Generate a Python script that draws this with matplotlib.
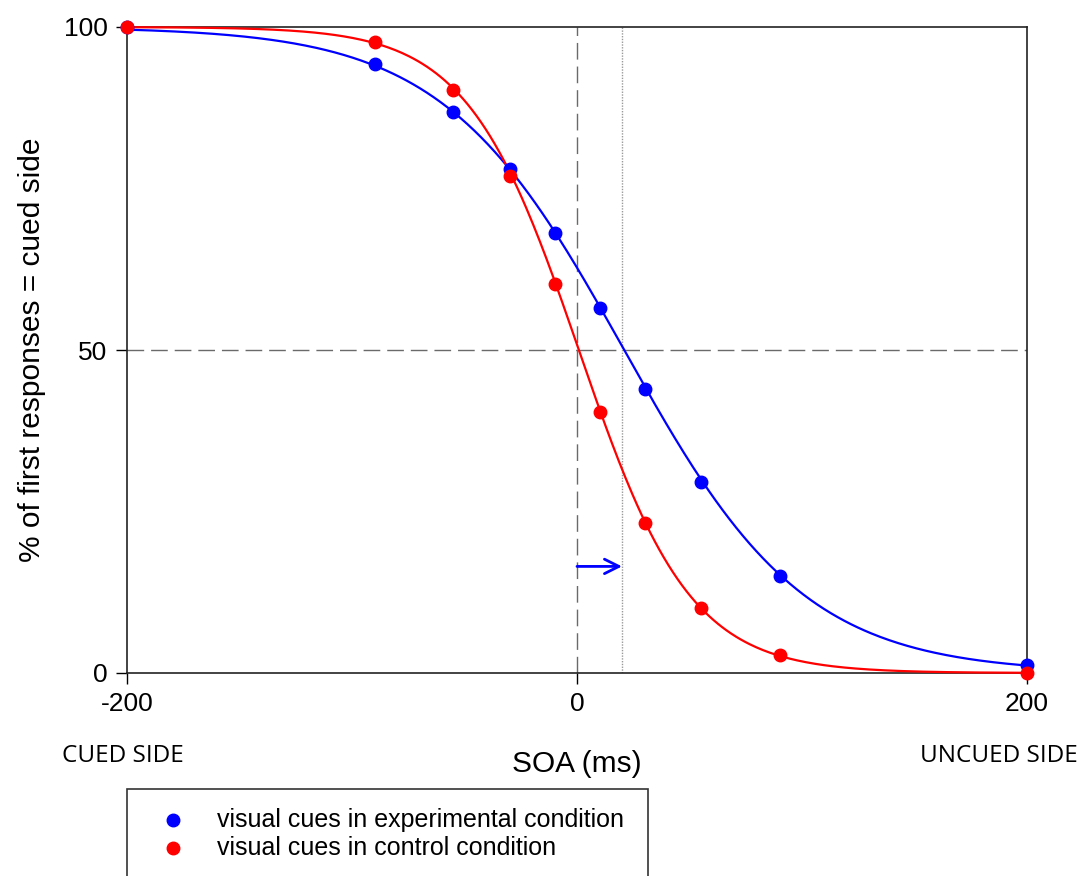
import numpy as np
import matplotlib
matplotlib.use("Agg")
import matplotlib.pyplot as plt
from matplotlib.patches import Rectangle

plt.rcParams['font.family'] = ['Liberation Sans', 'DejaVu Sans']
plt.rcParams['axes.unicode_minus'] = False

# ---- data ----
soa = [-200, -90, -55, -30, -10, 10, 30, 55, 90, 200]
exp_pct = [100.0, 94.3, 86.8, 78.0, 68.1, 56.5, 44.0, 29.6, 15.0, 1.2]
ctl_pct = [100.0, 97.7, 90.2, 76.9, 60.2, 40.4, 23.2, 10.1, 2.8, 0.0]
x_ticks = [-200, 0, 200]
y_ticks = [0, 50, 100]
legend_labels = ["visual cues in experimental condition",
                 "visual cues in control condition"]
shift_from, shift_to, shift_y = 0, 20, 16.5


def logistic_fit(x, y):
    x = np.asarray(x, float)
    y = np.asarray(y, float)
    m = (y > 0) & (y < 100)
    lg = np.log(y[m] / (100 - y[m]))
    a, b = np.polyfit(x[m], lg, 1)
    xs = np.linspace(-200, 200, 400)
    return xs, 100 / (1 + np.exp(-(a * xs + b))), -b / a


fig = plt.figure(figsize=(10.86, 8.76), dpi=100)
ax = fig.add_axes([127 / 1086, 1 - 673 / 876, 900 / 1086, 646 / 876])
ax.set_xlim(-200, 200)
ax.set_ylim(0, 100)

# reference lines
ax.axhline(50, color='#6a6a6a', lw=1.0, ls=(0, (12, 5)), zorder=1)
ax.axvline(0, color='#6a6a6a', lw=1.0, ls=(0, (12, 5)), zorder=1)
ax.axvline(shift_to, color='#9a9a9a', lw=1.0, ls=(0, (1, 1)), zorder=1)

for pct, col in [(exp_pct, '#0000ff'), (ctl_pct, '#ff0000')]:
    xs, ys, _ = logistic_fit(soa, pct)
    ax.plot(xs, ys, color=col, lw=1.6, zorder=4, clip_on=False)
    ax.plot(soa, pct, 'o', color=col, ms=9, zorder=5, clip_on=False)

ax.annotate('', xy=(shift_to, shift_y), xytext=(shift_from, shift_y),
            arrowprops=dict(arrowstyle='->', color='#0000ff', lw=2,
                            mutation_scale=26, shrinkA=0, shrinkB=0),
            zorder=6)

ax.set_xticks(x_ticks)
ax.set_yticks(y_ticks)
ax.tick_params(direction='out', length=8, width=1, labelsize=19, pad=6)
for s in ax.spines.values():
    s.set_linewidth(1.2)
    s.set_color('#222222')

fig.text(32 / 1086, 1 - 350 / 876, '% of first responses = cued side',
         fontsize=21.5, rotation=90, ha='center', va='center')

fig.text(577 / 1086, 1 - 764 / 876, 'SOA (ms)', fontsize=21.5,
         ha='center', va='center')
fig.text(123 / 1086, 1 - 756 / 876, 'CUED SIDE', fontsize=17.5,
         ha='center', va='center', family=['Open Sans', 'DejaVu Sans'])
fig.text(999 / 1086, 1 - 756 / 876, 'UNCUED SIDE', fontsize=17.5,
         ha='center', va='center', family=['Open Sans', 'DejaVu Sans'])

# legend box (cut by the figure bottom)
fig.patches.append(Rectangle((127 / 1086, -0.05), (648 - 127) / 1086,
                             (1 - 789 / 876) + 0.05, transform=fig.transFigure,
                             fill=False, edgecolor='#333333', lw=1.2))
for i, (lab, col) in enumerate(zip(legend_labels, ['#0000ff', '#ff0000'])):
    yy = 1 - (820 + 28 * i) / 876
    fig.lines.append(plt.Line2D([173 / 1086], [yy], marker='o', color=col,
                                ms=9, transform=fig.transFigure))
    fig.text(217 / 1086, yy, lab, fontsize=18, ha='left', va='center')

fig.savefig('out.png', dpi=100)
